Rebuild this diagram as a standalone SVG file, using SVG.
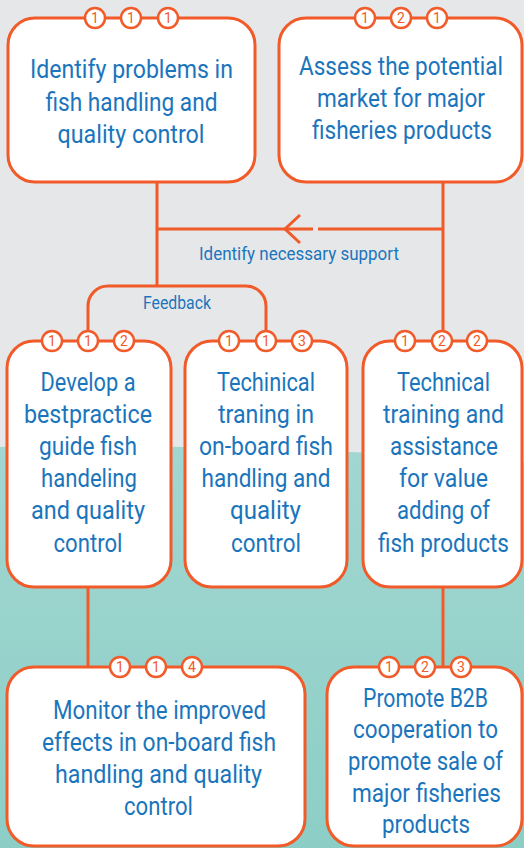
<svg xmlns="http://www.w3.org/2000/svg" width="524" height="848" viewBox="0 0 524 848">
  <defs>
    <linearGradient id="sea" x1="0" y1="0" x2="0" y2="1">
      <stop offset="0" stop-color="#a2d7d1"/>
      <stop offset="1" stop-color="#8ccec6"/>
    </linearGradient>
    <style>
      .box { fill: #ffffff; stroke: #f15a29; stroke-width: 3; }
      .line { fill: none; stroke: #f15a29; stroke-width: 3; }
      .badge { fill: #ffffff; stroke: #f15a29; stroke-width: 2.5; }
      .num { fill: #f15a29; font-family: Roboto, "Liberation Sans", sans-serif; font-size: 14px; text-anchor: middle; }
      .t { fill: #1b75bc; font-family: Roboto, "Liberation Sans", sans-serif; font-size: 25px; font-weight: 400; text-anchor: middle; }
      .lbl { fill: #1b75bc; font-family: Roboto, "Liberation Sans", sans-serif; font-size: 18.5px; font-weight: 400; text-anchor: middle; }
    </style>
  </defs>

  <!-- background -->
  <rect x="0" y="0" width="524" height="848" fill="#e6e7e9"/>
  <path d="M0,447 C120,444 240,448 350,452 C430,455 480,458 524,462 L524,848 L0,848 Z" fill="url(#sea)"/>

  <!-- connectors -->
  <g id="connectors">
    <path class="line" d="M157,182 V286"/>
    <path class="line" d="M157,229 H313"/>
    <path class="line" d="M318,229 H443"/>
    <path class="line" d="M300,215 L285,229 L300,243"/>
    <path class="line" d="M443,182 V341"/>
    <path class="line" d="M88,341 V306 A20,20 0 0 1 108,286 H246 A20,20 0 0 1 266,306 V341"/>
    <path class="line" d="M88,587 V667"/>
    <path class="line" d="M443,587 V667"/>
    <text class="lbl" x="299" y="260" textLength="200" lengthAdjust="spacingAndGlyphs">Identify necessary support</text>
    <text class="lbl" x="177" y="309" textLength="68" lengthAdjust="spacingAndGlyphs">Feedback</text>
  </g>

  <!-- 1.1.1 -->
  <g id="n111">
    <rect class="box" x="8" y="18" width="247" height="164" rx="27"/>
    <circle class="badge" cx="95" cy="18" r="10"/><text class="num" x="95" y="23">1</text>
    <circle class="badge" cx="131" cy="18" r="10"/><text class="num" x="131" y="23">1</text>
    <circle class="badge" cx="168" cy="18" r="10"/><text class="num" x="168" y="23">1</text>
    <text class="t" x="131.5" y="78" textLength="203" lengthAdjust="spacingAndGlyphs">Identify problems in</text>
    <text class="t" x="131.5" y="111" textLength="172" lengthAdjust="spacingAndGlyphs">fish handling and</text>
    <text class="t" x="131" y="143" textLength="147" lengthAdjust="spacingAndGlyphs">quality control</text>
  </g>

  <!-- 1.2.1 -->
  <g id="n121">
    <rect class="box" x="279" y="18" width="243" height="164" rx="27"/>
    <circle class="badge" cx="365" cy="18" r="10"/><text class="num" x="365" y="23">1</text>
    <circle class="badge" cx="401" cy="18" r="10"/><text class="num" x="401" y="23">2</text>
    <circle class="badge" cx="437" cy="18" r="10"/><text class="num" x="437" y="23">1</text>
    <text class="t" x="401" y="75" textLength="204" lengthAdjust="spacingAndGlyphs">Assess the potential</text>
    <text class="t" x="401" y="107" textLength="168" lengthAdjust="spacingAndGlyphs">market for major</text>
    <text class="t" x="402" y="139" textLength="180" lengthAdjust="spacingAndGlyphs">fisheries products</text>
  </g>

  <!-- 1.1.2 -->
  <g id="n112">
    <rect class="box" x="7" y="341" width="164" height="246" rx="27"/>
    <circle class="badge" cx="52" cy="341" r="10"/><text class="num" x="52" y="346">1</text>
    <circle class="badge" cx="88" cy="341" r="10"/><text class="num" x="88" y="346">1</text>
    <circle class="badge" cx="124" cy="341" r="10"/><text class="num" x="124" y="346">2</text>
    <text class="t" x="88" y="391" textLength="95" lengthAdjust="spacingAndGlyphs">Develop a</text>
    <text class="t" x="88" y="423" textLength="128" lengthAdjust="spacingAndGlyphs">bestpractice</text>
    <text class="t" x="88" y="455" textLength="98" lengthAdjust="spacingAndGlyphs">guide fish</text>
    <text class="t" x="89" y="487" textLength="96" lengthAdjust="spacingAndGlyphs">handeling</text>
    <text class="t" x="88" y="519" textLength="114" lengthAdjust="spacingAndGlyphs">and quality</text>
    <text class="t" x="88" y="552" textLength="69" lengthAdjust="spacingAndGlyphs">control</text>
  </g>

  <!-- 1.1.3 -->
  <g id="n113">
    <rect class="box" x="185" y="341" width="162" height="246" rx="27"/>
    <circle class="badge" cx="229" cy="341" r="10"/><text class="num" x="229" y="346">1</text>
    <circle class="badge" cx="266" cy="341" r="10"/><text class="num" x="266" y="346">1</text>
    <circle class="badge" cx="302" cy="341" r="10"/><text class="num" x="302" y="346">3</text>
    <text class="t" x="266" y="391" textLength="98" lengthAdjust="spacingAndGlyphs">Techinical</text>
    <text class="t" x="266" y="423" textLength="96" lengthAdjust="spacingAndGlyphs">traning in</text>
    <text class="t" x="266" y="455" textLength="134" lengthAdjust="spacingAndGlyphs">on-board fish</text>
    <text class="t" x="266" y="487" textLength="129" lengthAdjust="spacingAndGlyphs">handling and</text>
    <text class="t" x="265.5" y="519" textLength="71" lengthAdjust="spacingAndGlyphs">quality</text>
    <text class="t" x="266" y="552" textLength="70" lengthAdjust="spacingAndGlyphs">control</text>
  </g>

  <!-- 1.2.2 -->
  <g id="n122">
    <rect class="box" x="363" y="341" width="159" height="246" rx="27"/>
    <circle class="badge" cx="405" cy="341" r="10"/><text class="num" x="405" y="346">1</text>
    <circle class="badge" cx="442" cy="341" r="10"/><text class="num" x="442" y="346">2</text>
    <circle class="badge" cx="477" cy="341" r="10"/><text class="num" x="477" y="346">2</text>
    <text class="t" x="443.5" y="391" textLength="93" lengthAdjust="spacingAndGlyphs">Technical</text>
    <text class="t" x="443.5" y="423" textLength="121" lengthAdjust="spacingAndGlyphs">training and</text>
    <text class="t" x="444" y="455" textLength="108" lengthAdjust="spacingAndGlyphs">assistance</text>
    <text class="t" x="443.5" y="487" textLength="89" lengthAdjust="spacingAndGlyphs">for value</text>
    <text class="t" x="443.5" y="519" textLength="93" lengthAdjust="spacingAndGlyphs">adding of</text>
    <text class="t" x="443.5" y="552" textLength="131" lengthAdjust="spacingAndGlyphs">fish products</text>
  </g>

  <!-- 1.1.4 -->
  <g id="n114">
    <rect class="box" x="7" y="667" width="298" height="179" rx="27"/>
    <circle class="badge" cx="120" cy="667" r="10"/><text class="num" x="120" y="672">1</text>
    <circle class="badge" cx="156" cy="667" r="10"/><text class="num" x="156" y="672">1</text>
    <circle class="badge" cx="192" cy="667" r="10"/><text class="num" x="192" y="672">4</text>
    <text class="t" x="159.5" y="719" textLength="213" lengthAdjust="spacingAndGlyphs">Monitor the improved</text>
    <text class="t" x="159" y="751" textLength="234" lengthAdjust="spacingAndGlyphs">effects in on-board fish</text>
    <text class="t" x="158.5" y="783" textLength="207" lengthAdjust="spacingAndGlyphs">handling and quality</text>
    <text class="t" x="158.5" y="815" textLength="69" lengthAdjust="spacingAndGlyphs">control</text>
  </g>

  <!-- 1.2.3 -->
  <g id="n123">
    <rect class="box" x="327" y="667" width="195" height="179" rx="27"/>
    <circle class="badge" cx="389" cy="667" r="10"/><text class="num" x="389" y="672">1</text>
    <circle class="badge" cx="425" cy="667" r="10"/><text class="num" x="425" y="672">2</text>
    <circle class="badge" cx="461" cy="667" r="10"/><text class="num" x="461" y="672">3</text>
    <text class="t" x="425.5" y="707" textLength="125" lengthAdjust="spacingAndGlyphs">Promote B2B</text>
    <text class="t" x="425.5" y="738" textLength="145" lengthAdjust="spacingAndGlyphs">cooperation to</text>
    <text class="t" x="425.5" y="770" textLength="155" lengthAdjust="spacingAndGlyphs">promote sale of</text>
    <text class="t" x="426.5" y="802" textLength="149" lengthAdjust="spacingAndGlyphs">major fisheries</text>
    <text class="t" x="426" y="833" textLength="88" lengthAdjust="spacingAndGlyphs">products</text>
  </g>
</svg>
